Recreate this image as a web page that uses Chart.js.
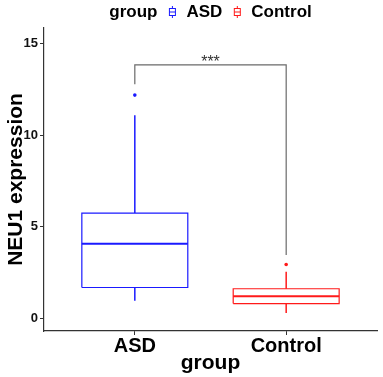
<!DOCTYPE html>
<html><head><meta charset="utf-8">
<script src="https://cdn.jsdelivr.net/npm/chart.js@4"></script>
<style>html,body{margin:0;padding:0;background:#fff}</style>
</head><body><canvas id="c" width="383" height="377"></canvas>
<script>
const groups = ['ASD', 'Control'];
const whiskerLow = [0.95, 0.29];
const q1 = [1.68, 0.80];
const medians = [4.07, 1.20];
const q3 = [5.75, 1.61];
const whiskerHigh = [11.1, 2.54];
const outliers = [[12.2], [2.94]];
const yTicks = [0, 5, 10, 15];
const bracketY = [12.8, 13.85, 13.85, 3.45];
const sigLabel = '***';

const colors = ['#1a1aff', '#ff1a1a'];
const FONT = "'Liberation Sans', Arial, sans-serif";
const HW = 0.35;

const datasets = [];
groups.forEach((g, i) => {
  const c = i + 1, col = colors[i];
  const line = (pts, w) => ({type: 'scatter', data: pts, showLine: true, borderColor: col, borderWidth: w, pointRadius: 0, fill: false});
  datasets.push(line([{x: c - HW, y: q1[i]}, {x: c + HW, y: q1[i]}, {x: c + HW, y: q3[i]}, {x: c - HW, y: q3[i]}, {x: c - HW, y: q1[i]}], 1.2));
  datasets.push(line([{x: c - HW, y: medians[i]}, {x: c + HW, y: medians[i]}], 2));
  datasets.push(line([{x: c, y: q3[i]}, {x: c, y: whiskerHigh[i]}], 1.5));
  datasets.push(line([{x: c, y: whiskerLow[i]}, {x: c, y: q1[i]}], 1.5));
  datasets.push({type: 'scatter', data: outliers[i].map(v => ({x: c, y: v})), pointRadius: 1.8, backgroundColor: col, borderWidth: 0});
});
datasets.push({type: 'scatter', data: [{x: 1, y: bracketY[0]}, {x: 1, y: bracketY[1]}, {x: 2, y: bracketY[2]}, {x: 2, y: bracketY[3]}], showLine: true, borderColor: '#6a6a6a', borderWidth: 1.2, pointRadius: 0});

const overlay = {
  id: 'overlay',
  afterDraw(chart) {
    const ctx = chart.ctx, xs = chart.scales.x, ys = chart.scales.y;
    ctx.save();
    ctx.fillStyle = '#333';
    ctx.font = '16px ' + FONT;
    ctx.textAlign = 'center';
    ctx.textBaseline = 'alphabetic';
    ctx.fillText(sigLabel, xs.getPixelForValue(1.5), ys.getPixelForValue(bracketY[1]) + 2);
    ctx.font = 'bold 17px ' + FONT;
    ctx.textBaseline = 'middle';
    ctx.textAlign = 'left';
    const title = 'group';
    let total = ctx.measureText(title).width;
    groups.forEach(g => { total += 11 + 8 + 10 + ctx.measureText(g).width; });
    let x = (chart.chartArea.left + chart.chartArea.right) / 2 - total / 2;
    const cy = 12;
    ctx.fillStyle = '#000';
    ctx.fillText(title, x, cy);
    x += ctx.measureText(title).width + 11;
    groups.forEach((g, i) => {
      ctx.strokeStyle = colors[i];
      ctx.lineWidth = 1;
      ctx.beginPath();
      ctx.moveTo(x + 4, cy - 6); ctx.lineTo(x + 4, cy - 3.5);
      ctx.moveTo(x + 4, cy + 3.5); ctx.lineTo(x + 4, cy + 6);
      ctx.stroke();
      ctx.strokeRect(x + 1, cy - 3.5, 6, 7);
      ctx.beginPath(); ctx.moveTo(x + 1, cy); ctx.lineTo(x + 7, cy); ctx.stroke();
      x += 8 + 10;
      ctx.fillStyle = '#000';
      ctx.fillText(g, x, cy);
      x += ctx.measureText(g).width + 11;
    });
    ctx.restore();
  }
};

new Chart(document.getElementById('c'), {
  type: 'scatter',
  data: {datasets},
  options: {
    responsive: false, animation: false, devicePixelRatio: 1,
    layout: {padding: {top: 28, right: 6, left: 0, bottom: 0}},
    plugins: {legend: {display: false}, tooltip: {enabled: false}},
    scales: {
      x: {
        type: 'linear', min: 0.4, max: 2.6,
        afterBuildTicks: s => { s.ticks = groups.map((g, i) => ({value: i + 1})); },
        afterFit: s => { s.height = 46; },
        grid: {drawOnChartArea: false, drawTicks: true, tickLength: 4, color: '#333'},
        border: {display: true, color: '#333', width: 1.2},
        ticks: {callback: v => groups[v - 1], color: '#000', font: {family: FONT, size: 20, weight: 'bold'}, padding: -1, maxRotation: 0, autoSkip: false},
        title: {display: true, text: 'group', color: '#000', font: {family: FONT, size: 21, weight: 'bold'}, padding: {top: 0, bottom: 1}}
      },
      y: {
        min: -0.7, max: 15.87,
        afterBuildTicks: s => { s.ticks = yTicks.map(v => ({value: v})); },
        afterFit: s => { s.width = 44; },
        grid: {drawOnChartArea: false, drawTicks: true, tickLength: 4, color: '#333'},
        border: {display: true, color: '#333', width: 1.2},
        ticks: {color: '#111', font: {family: FONT, size: 13, weight: 'bold'}, padding: 2},
        title: {display: true, text: 'NEU1 expression', color: '#000', font: {family: FONT, size: 21, weight: 'bold'}, padding: {top: 4, bottom: 0}}
      }
    }
  },
  plugins: [overlay]
});
</script></body></html>
